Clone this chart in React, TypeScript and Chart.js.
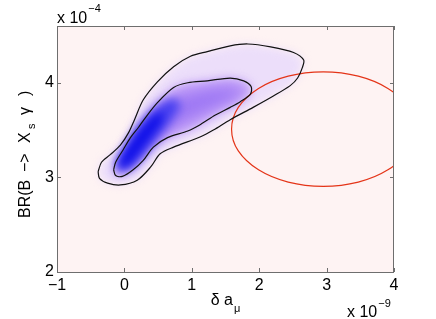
import React, { useEffect, useRef } from "react";
import { Chart, registerables } from "chart.js";

Chart.register(...registerables);

// ---- data ----
const xTicks = [-1, 0, 1, 2, 3, 4];
const yTicks = [2, 3, 4];
const xRange = [-1, 4];
const yRange = [2, 4.6];

// outer (lower-probability) contour, x in 1e-9, y in 1e-4
const outerContour: [number, number][] = [
  [-0.39, 3.06], [-0.34, 3.16], [-0.21, 3.24], [-0.06, 3.34], [0.06, 3.47],
  [0.15, 3.61], [0.28, 3.82], [0.49, 4.01], [0.73, 4.17], [0.98, 4.28],
  [1.23, 4.33], [1.57, 4.39], [1.83, 4.41], [2.17, 4.38], [2.51, 4.32],
  [2.66, 4.24], [2.64, 4.16], [2.57, 4.05], [2.46, 3.97], [2.21, 3.86],
  [1.91, 3.74], [1.57, 3.61], [1.32, 3.5], [1.13, 3.43], [0.73, 3.32],
  [0.53, 3.25], [0.39, 3.11], [0.19, 2.97], [-0.06, 2.92], [-0.25, 2.94],
  [-0.37, 2.99], [-0.39, 3.06],
];

// inner (higher-probability) contour
const innerContour: [number, number][] = [
  [-0.16, 3.08], [-0.13, 3.16], [-0.02, 3.29], [0.09, 3.42], [0.21, 3.53],
  [0.31, 3.63], [0.49, 3.79], [0.73, 3.95], [0.94, 4.0], [1.23, 4.02],
  [1.57, 4.05], [1.77, 4.02], [1.88, 3.96], [1.87, 3.88], [1.72, 3.8],
  [1.57, 3.74], [1.35, 3.66], [1.13, 3.56], [0.94, 3.49], [0.64, 3.42],
  [0.43, 3.32], [0.28, 3.18], [0.13, 3.08], [-0.03, 3.01], [-0.13, 3.02],
  [-0.16, 3.08],
];

// density regions of the posterior (violet ridge, blue core, darkest peak)
const ridgeMid: [number, number][] = [
  [0.2, 3.46], [0.5, 3.74], [0.9, 3.88], [1.35, 3.95], [1.72, 3.95],
  [1.76, 3.88], [1.5, 3.79], [1.1, 3.66], [0.7, 3.52], [0.4, 3.36],
];
const ridgeCore: [number, number][] = [
  [-0.13, 3.08], [-0.1, 3.2], [0.02, 3.34], [0.16, 3.5], [0.36, 3.67],
  [0.58, 3.8], [0.75, 3.84], [0.84, 3.76], [0.7, 3.6], [0.5, 3.42],
  [0.31, 3.24], [0.12, 3.1], [-0.03, 3.06],
];
const ridgePeak: [number, number][] = [
  [-0.09, 3.13], [0.02, 3.29], [0.21, 3.48], [0.42, 3.64], [0.58, 3.7],
  [0.55, 3.58], [0.32, 3.36], [0.1, 3.16], [-0.03, 3.1],
];

// experimental (g-2) ellipse
const ellipsePts: [number, number][] = [
  [4.31, 3.51], [4.21, 3.74], [3.91, 3.94], [3.47, 4.07], [2.95, 4.115],
  [2.43, 4.07], [1.99, 3.94], [1.69, 3.74], [1.59, 3.51], [1.69, 3.28],
  [1.99, 3.08], [2.43, 2.95], [2.95, 2.905], [3.47, 2.95], [3.91, 3.08],
  [4.21, 3.28], [4.31, 3.51],
];

// ---- styles ----
const FONT = '"Liberation Sans", Arial, Helvetica, sans-serif';
const BG = "rgb(254,243,243)";
const densityLayers: { pts: [number, number][]; color: string; blur: number }[] = [
  { pts: outerContour, color: "rgb(236,222,250)", blur: 4 },
  { pts: innerContour, color: "rgb(195,160,248)", blur: 5 },
  { pts: ridgeMid, color: "rgb(158,120,244)", blur: 7 },
  { pts: ridgeCore, color: "rgb(72,64,240)", blur: 5 },
  { pts: ridgePeak, color: "rgb(15,15,232)", blur: 4 },
];

const fmt = (v: number) => (v < 0 ? "\u2212" + Math.abs(v) : String(v));

const toXY = (arr: [number, number][]) => arr.map(([x, y]) => ({ x, y }));

const densityPlugin = {
  id: "density",
  beforeDatasetsDraw(chart: any) {
    const { ctx, chartArea: a, scales } = chart;
    const xs = scales.x, ys = scales.y;
    ctx.save();
    ctx.beginPath();
    ctx.rect(a.left, a.top, a.right - a.left, a.bottom - a.top);
    ctx.clip();
    ctx.fillStyle = BG;
    ctx.fillRect(a.left, a.top, a.right - a.left, a.bottom - a.top);
    for (const layer of densityLayers) {
      ctx.filter = `blur(${layer.blur}px)`;
      ctx.fillStyle = layer.color;
      ctx.beginPath();
      layer.pts.forEach(([x, y], i) => {
        const px = xs.getPixelForValue(x);
        const py = ys.getPixelForValue(y);
        if (i === 0) ctx.moveTo(px, py);
        else ctx.lineTo(px, py);
      });
      ctx.closePath();
      ctx.fill();
    }
    ctx.filter = "none";
    ctx.restore();
  },
  afterDatasetsDraw(chart: any) {
    const { ctx, chartArea: a, scales } = chart;
    const xs = scales.x, ys = scales.y;
    ctx.save();
    ctx.strokeStyle = "rgb(110,110,110)";
    ctx.lineWidth = 1;
    ctx.strokeRect(a.left + 0.5, a.top + 0.5, a.right - a.left - 1, a.bottom - a.top);
    const tl = 4;
    ctx.beginPath();
    xs.ticks.forEach((t: any) => {
      const px = Math.round(xs.getPixelForValue(t.value)) + 0.5;
      ctx.moveTo(px, a.bottom);
      ctx.lineTo(px, a.bottom - tl);
      ctx.moveTo(px, a.top);
      ctx.lineTo(px, a.top + tl);
    });
    ys.ticks.forEach((t: any) => {
      const py = Math.round(ys.getPixelForValue(t.value)) + 0.5;
      ctx.moveTo(a.left, py);
      ctx.lineTo(a.left + tl, py);
      ctx.moveTo(a.right, py);
      ctx.lineTo(a.right - tl, py);
    });
    ctx.stroke();
    ctx.restore();
  },
  afterDraw(chart: any) {
    const { ctx, chartArea: a } = chart;
    ctx.save();
    ctx.fillStyle = "#000";
    ctx.textBaseline = "alphabetic";
    const big = `16px ${FONT}`;
    const small = `11px ${FONT}`;

    // exponent labels
    ctx.font = big;
    ctx.textAlign = "left";
    ctx.fillText("x 10", a.left, 23);
    let w = ctx.measureText("x 10").width;
    ctx.font = small;
    ctx.fillText("\u22124", a.left + w + 1, 12);

    ctx.font = big;
    ctx.fillText("x 10", 347, 317);
    w = ctx.measureText("x 10").width;
    ctx.font = small;
    ctx.fillText("\u22129", 347 + w + 1, 307);

    // x title: δ a_μ
    ctx.font = big;
    const t1 = "\u03b4 a";
    const w1 = ctx.measureText(t1).width;
    ctx.font = small;
    const w2 = ctx.measureText("\u03bc").width;
    const cx = (a.left + a.right) / 2;
    const sx = cx - (w1 + w2 + 1) / 2;
    ctx.font = big;
    ctx.fillText(t1, sx, 305);
    ctx.font = small;
    ctx.fillText("\u03bc", sx + w1 + 1, 312);

    // y title: BR(B −> X_s γ), pieces placed along the rotated baseline
    const parts: { t: string; f: string; d: number; dy: number }[] = [
      { t: "BR(B", f: big, d: 0, dy: 0 },
      { t: "\u2212>", f: big, d: 46, dy: 0 },
      { t: "X", f: big, d: 75, dy: 0 },
      { t: "s", f: small, d: 89, dy: 5 },
      { t: "\u03b3", f: big, d: 103, dy: 0 },
      { t: ")", f: big, d: 122, dy: 0 },
    ];
    ctx.translate(30, 218);
    ctx.rotate(-Math.PI / 2);
    parts.forEach((p) => {
      ctx.font = p.f;
      ctx.fillText(p.t, p.d, p.dy);
    });
    ctx.restore();
  },
};

export default function App() {
  const ref = useRef<HTMLCanvasElement | null>(null);
  useEffect(() => {
    document.body.style.margin = "0";
    const canvas = ref.current;
    if (!canvas) return;
    const lineDs = (data: [number, number][], color: string, tension: number) => ({
      data: toXY(data),
      showLine: true,
      borderColor: color,
      borderWidth: 1.2,
      pointRadius: 0,
      fill: false,
      tension,
    });
    const tickFont = { family: FONT, size: 16 };
    const chart = new Chart(canvas, {
      type: "scatter",
      data: {
        datasets: [
          lineDs(outerContour, "#111", 0.3),
          lineDs(innerContour, "#111", 0.3),
          lineDs(ellipsePts, "rgb(228,52,24)", 0.35),
        ],
      },
      options: {
        animation: false,
        responsive: false,
        devicePixelRatio: 1,
        layout: { padding: { left: 0, right: 42, top: 26, bottom: 0 } },
        plugins: {
          legend: { display: false },
          tooltip: { enabled: false },
          title: { display: false },
        },
        scales: {
          x: {
            type: "linear",
            min: xRange[0],
            max: xRange[1],
            afterBuildTicks: (s: any) => {
              s.ticks = xTicks.map((v) => ({ value: v }));
            },
            afterFit: (s: any) => {
              s.height = 47;
            },
            grid: { display: false, drawTicks: false },
            border: { display: false },
            ticks: {
              padding: 4,
              color: "#000",
              font: tickFont,
              maxRotation: 0,
              autoSkip: false,
              callback: (v: any) => fmt(Number(v)),
            },
          },
          y: {
            type: "linear",
            min: yRange[0],
            max: yRange[1],
            afterBuildTicks: (s: any) => {
              s.ticks = yTicks.map((v) => ({ value: v }));
            },
            afterFit: (s: any) => {
              s.width = 57;
            },
            grid: { display: false, drawTicks: false },
            border: { display: false },
            ticks: {
              padding: 3,
              color: "#000",
              font: tickFont,
              autoSkip: false,
              callback: (v: any) => fmt(Number(v)),
            },
          },
        },
      },
      plugins: [densityPlugin],
    } as any);
    return () => chart.destroy();
  }, []);
  return <canvas ref={ref} width={436} height={319} style={{ display: "block" }} />;
}
